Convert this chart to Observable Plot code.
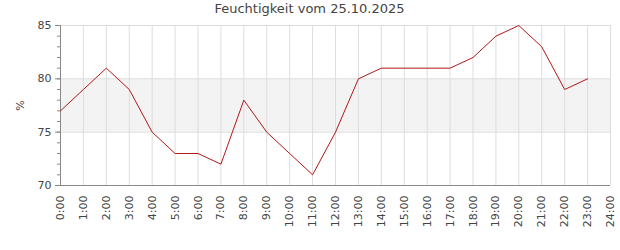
<!DOCTYPE html>
<html><head><meta charset="utf-8">
<script src="https://cdn.jsdelivr.net/npm/d3@7"></script>
<script src="https://cdn.jsdelivr.net/npm/@observablehq/plot@0.6"></script>
<style>body{margin:0;background:#fff;font-family:"DejaVu Sans",sans-serif}</style>
</head><body><div id="chart"></div>
<script>
const title = "Feuchtigkeit vom 25.10.2025";
const hours = [0,1,2,3,4,5,6,7,8,9,10,11,12,13,14,15,16,17,18,19,20,21,22,23];
const humidity = [77,79,81,79,75,73,73,72,78,75,73,71,75,80,81,81,81,81,82,84,85,83,79,80];
const xTicks = d3.range(0,25);
const yTicks = [70,75,80,85];
const yMinor = d3.range(70,86);
const band = [{y1:75,y2:80}];
const data = hours.map((h,i)=>({h, v: humidity[i]}));

const chart = Plot.plot({
  width: 620, height: 250,
  marginLeft: 60, marginRight: 10, marginTop: 25, marginBottom: 65,
  style: {fontFamily: "DejaVu Sans, sans-serif", fontSize: "11px", color: "#444", background: "#fff"},
  x: {domain: [0,24], label: null},
  y: {domain: [70,85], label: null},
  marks: [
    Plot.rectY(band, {x1: 0, x2: 24, y1: "y1", y2: "y2", fill: "#f3f3f3"}),
    Plot.gridX(xTicks, {stroke: "#ddd", strokeOpacity: 1}),
    Plot.gridY([75,80,85], {stroke: "#ddd", strokeOpacity: 1}),
    Plot.axisY(yMinor, {tickSize: 3, text: null, label: null, stroke: "#888"}),
    Plot.axisY(yTicks, {tickSize: 5, tickPadding: 4, stroke: "#888", fill: "#444", fontSize: 11, label: "%", labelAnchor: "center", labelArrow: "none", labelOffset: 44}),
    Plot.axisX(xTicks, {tickSize: 0, tickPadding: 10, tickRotate: -90, tickFormat: d => d + ":00", fill: "#444", fontSize: 11, label: null}),
    Plot.ruleY([70], {stroke: "#888"}),
    Plot.ruleX([0], {stroke: "#888"}),
    Plot.line(data, {x: "h", y: "v", stroke: "#b01818", strokeWidth: 1}),
    Plot.text([title], {frameAnchor: "top", dx: -26, dy: -13, lineAnchor: "bottom", fontSize: 13, fill: "#444"})
  ]
});
document.getElementById("chart").append(chart);
</script></body></html>
